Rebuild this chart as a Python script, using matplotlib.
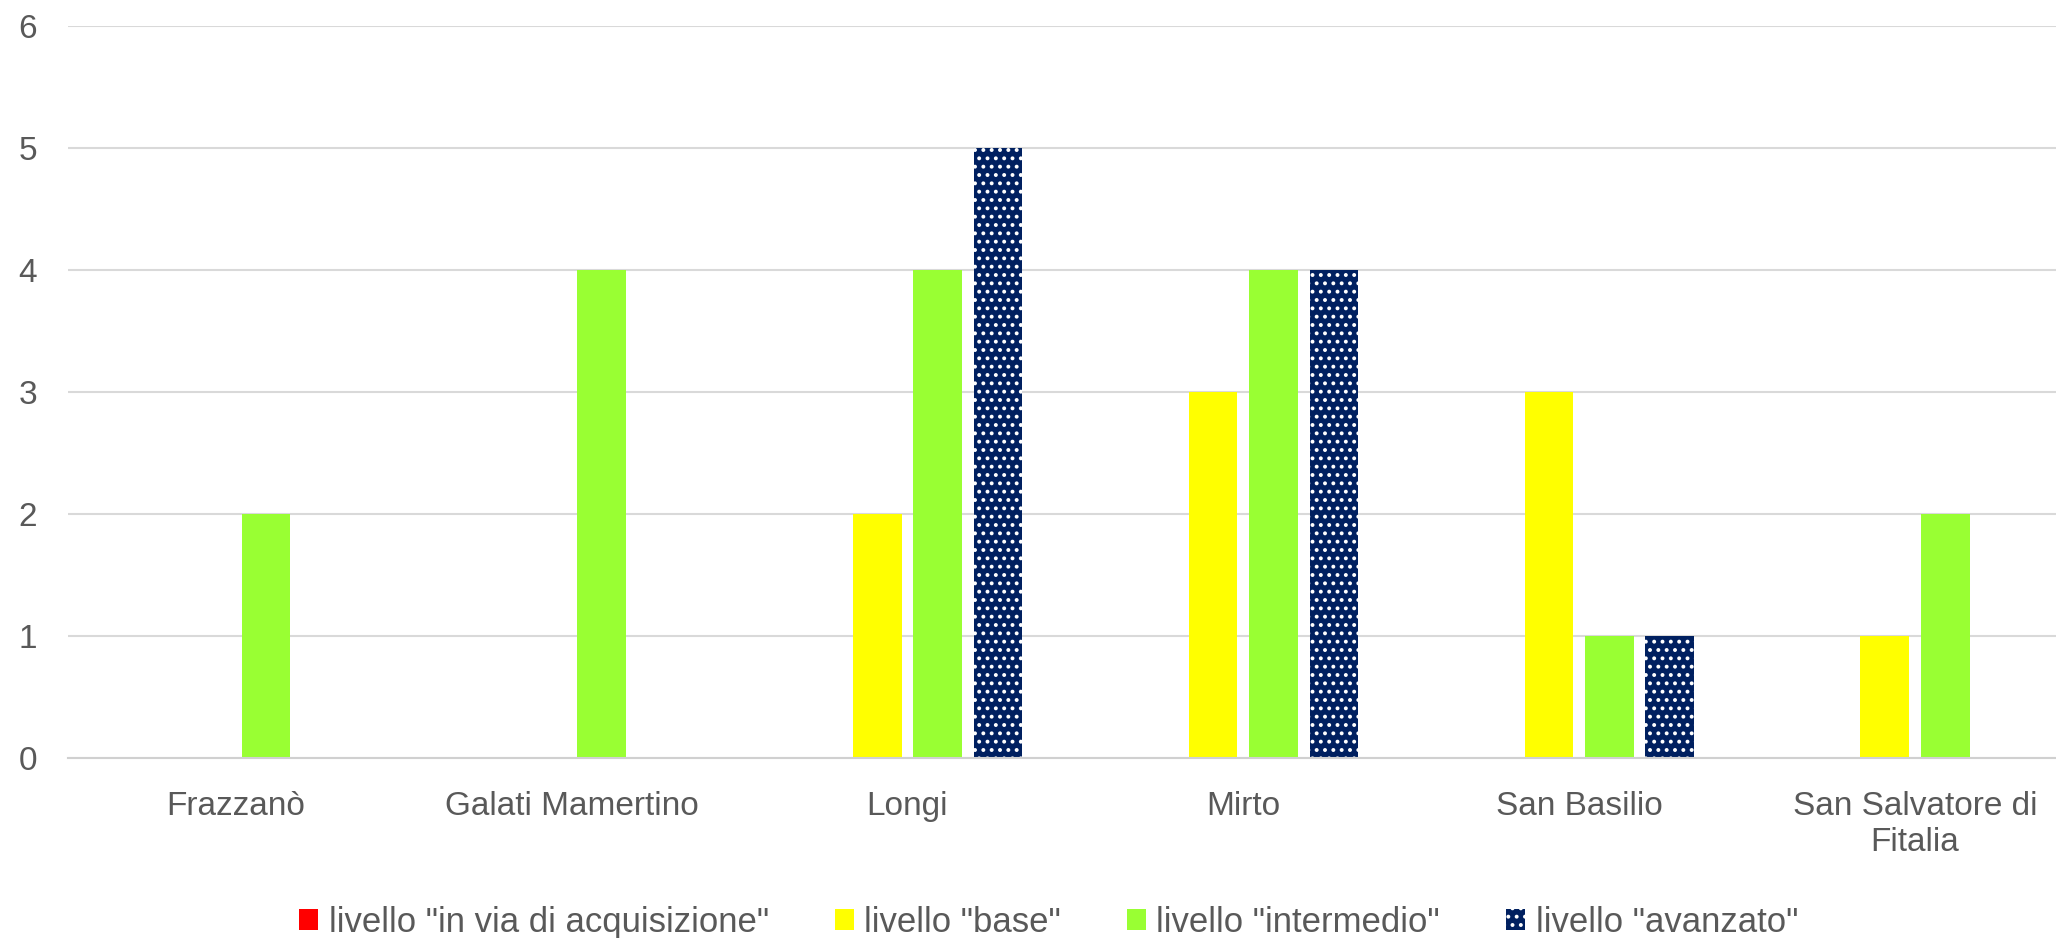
import matplotlib.pyplot as plt
import numpy as np

comuni = ['Frazzanò', 'Galati Mamertino', 'Longi', 'Mirto', 'San Basilio',
          'San Salvatore di\nFitalia']
livelli = ['livello "in via di acquisizione"', 'livello "base"',
           'livello "intermedio"', 'livello "avanzato"']
in_via = [0, 0, 0, 0, 0, 0]
base = [0, 0, 2, 3, 3, 1]
intermedio = [2, 4, 4, 4, 1, 2]
avanzato = [0, 0, 5, 4, 1, 0]

colori = ['#ff0000', '#ffff00', '#99ff33', '#002060']
serie = [in_via, base, intermedio, avanzato]

plt.rcParams['font.family'] = ['Liberation Sans', 'DejaVu Sans']
plt.rcParams['hatch.linewidth'] = 1.6

fig = plt.figure(figsize=(20.56, 9.38), dpi=100)
ax = fig.add_axes([0.033, 0.192, 0.967, 0.78])

x = np.arange(len(comuni))
step = 0.18
width = 0.145
handles = []
for i, (vals, col) in enumerate(zip(serie, colori)):
    pos = x + (i - 1.5) * step
    if i == 3:
        b = ax.bar(pos, vals, width, color=col, edgecolor='white', linewidth=0,
                   hatch='..', zorder=3, label=livelli[i])
    else:
        b = ax.bar(pos, vals, width, color=col, linewidth=0, zorder=3,
                   label=livelli[i])
    handles.append(b)

ax.set_xlim(-0.5, 5.42)
ax.set_ylim(0, 6)
ax.set_yticks(range(7))
ax.set_xticks(x)
ax.set_xticklabels(comuni)
ax.grid(axis='y', color='#d9d9d9', linewidth=1.5, zorder=0)
for s in ['top', 'right', 'left']:
    ax.spines[s].set_visible(False)
ax.spines['bottom'].set_color('#d0d0d0')
ax.spines['bottom'].set_linewidth(1.5)
ax.spines['bottom'].set_zorder(4)
ax.tick_params(axis='both', length=0, labelsize=24, colors='#595959')
ax.tick_params(axis='y', pad=22)
ax.tick_params(axis='x', pad=24)

fig.legend(handles=handles, loc='center', bbox_to_anchor=(0.510, 0.017),
           ncol=4, frameon=False, fontsize=25, labelcolor='#595959',
           handlelength=0.55, handleheight=0.55, handletextpad=0.3,
           columnspacing=1.9)

fig.savefig('out.png', dpi=100)
